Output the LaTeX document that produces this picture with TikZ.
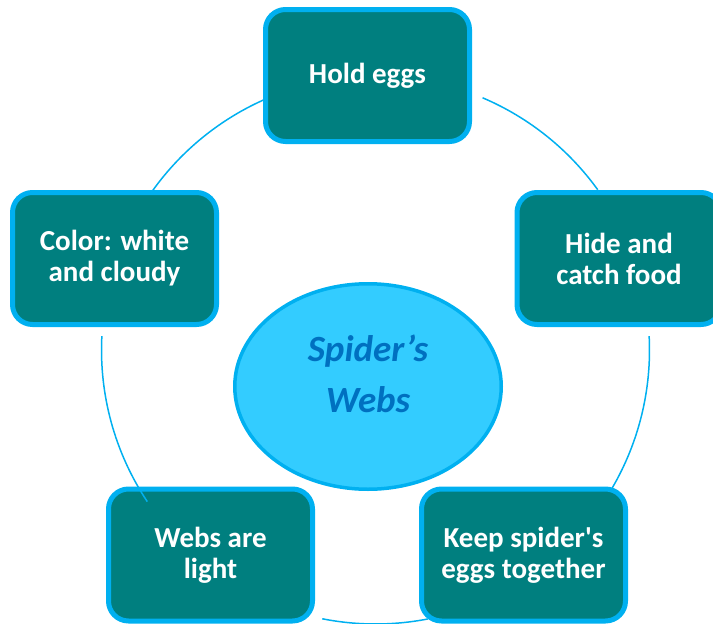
\documentclass[tikz,border=0pt]{standalone}
\usepackage{fontspec}
\setmainfont{Carlito}[Ligatures=TeXOff]
\usetikzlibrary{shapes.geometric,calc}
\definecolor{boxfill}{HTML}{007F7F}
\definecolor{skyline}{HTML}{00B0F0}
\definecolor{hubfill}{HTML}{33CCFF}
\definecolor{hubtext}{HTML}{0070C0}
\tikzset{
  stepbox/.style={draw=skyline, line width=5pt, fill=boxfill, rounded corners=20pt,
    minimum width=204pt, minimum height=132pt, inner sep=0pt, align=center,
    text=white, font=\bfseries\fontsize{29}{31}\selectfont},
  hub/.style={ellipse, draw=skyline, line width=3.5pt, fill=hubfill,
    minimum width=266.5pt, minimum height=205.5pt, inner sep=0pt},
  hublabel/.style={align=center, text=hubtext, inner sep=0pt,
    font=\bfseries\itshape\fontsize{37}{51}\selectfont},
  ring/.style={draw=skyline, line width=1.5pt}
}
\begin{document}
\begin{tikzpicture}[x=1pt,y=1pt]
\useasboundingbox (0,0) rectangle (713,-624);

% centre
\node[hub] (hub) at (368,-386.5) {};
\node[hublabel] (hubtxt) at (368,-374) {Spider’s\\Webs};

% outer boxes
\node[stepbox] (hold)  at (367.5,-75.5) {Hold eggs};
\node[stepbox] (hide)  at (619,-258.5)  {Hide and\\catch food};
\node[stepbox] (keep)  at (523.5,-555)  {Keep spider's\\eggs together};
\node[stepbox] (webs)  at (210.5,-555)  {Webs are\\light};
\node[stepbox] (color) at (114.5,-258.5) {Color: white\\and cloudy};

% ring arcs
\coordinate (ringc) at (375.5,-350);
\coordinate (a1) at ($(ringc)+(67:274)$);
\coordinate (a2) at ($(ringc)+(2.9:274)$);
\coordinate (a3) at ($(ringc)+(-79:274)$);
\coordinate (a4) at ($(ringc)+(-146.4:274)$);
\coordinate (a5) at ($(ringc)+(144.4:274)$);
\draw[ring] (a1) arc[start angle=67, end angle=35.8, radius=274];
\draw[ring] (a2) arc[start angle=2.9, end angle=-30.2, radius=274];
\draw[ring] (a3) arc[start angle=-79, end angle=-101.2, radius=274];
\draw[ring] (a4) arc[start angle=-146.4, end angle=-182.9, radius=274];
\draw[ring] (a5) arc[start angle=144.4, end angle=113.4, radius=274];
\end{tikzpicture}
\end{document}
